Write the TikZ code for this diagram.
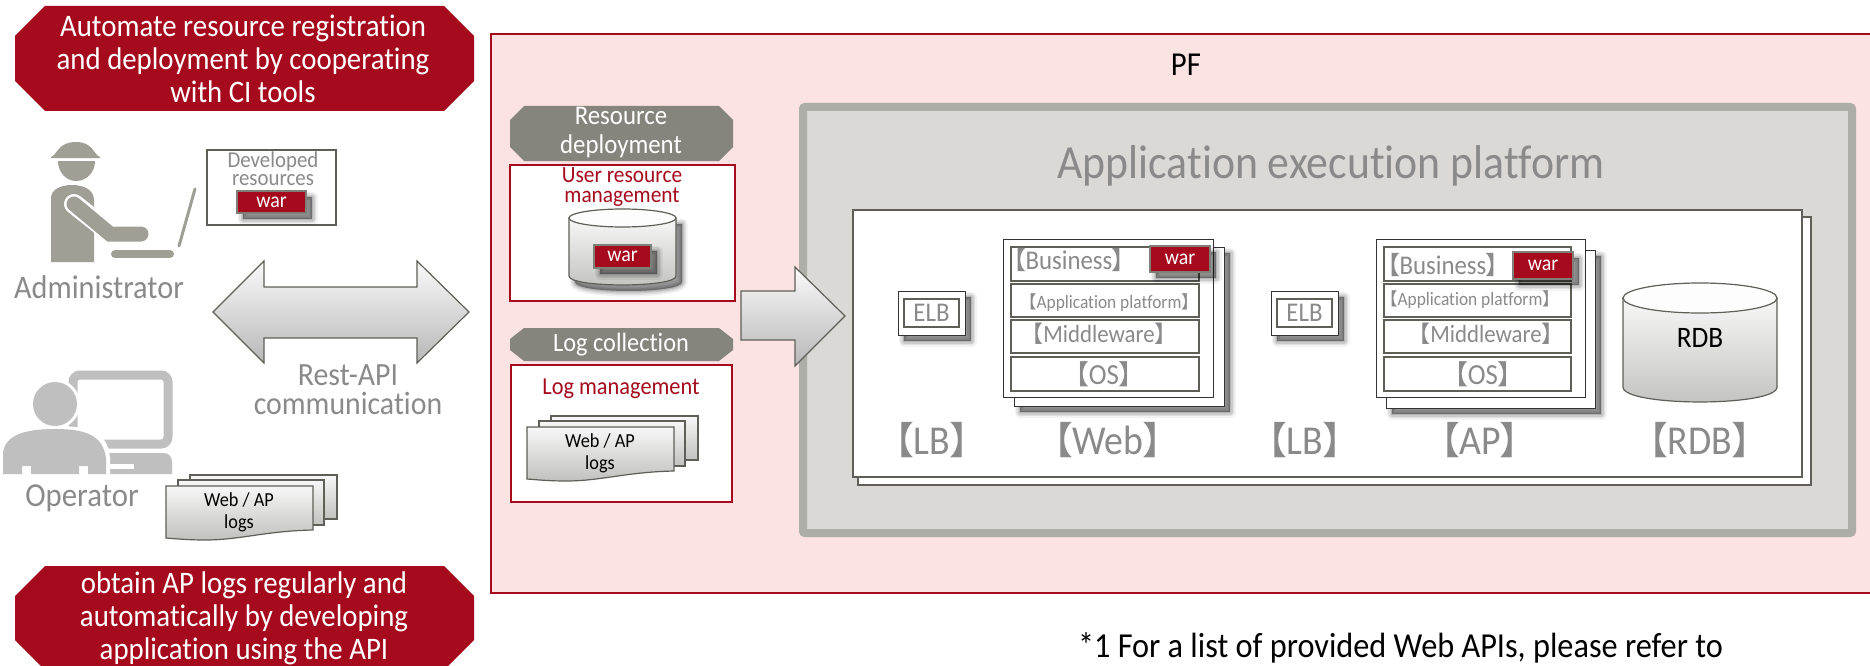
\documentclass[tikz,border=0pt]{standalone}
\usepackage{fontspec}
\setmainfont[FakeStretch=0.92,Scale=1.08,Ligatures=NoCommon]{Carlito}
\newfontfamily\cjk{Noto Sans CJK JP}
\definecolor{fred}{HTML}{A60B1D}
\definecolor{fpink}{HTML}{FBE3E3}
\definecolor{fgrayb}{HTML}{85857D}
\definecolor{fline}{HTML}{5F5F58}
\definecolor{ftext}{HTML}{8A8A8A}
\definecolor{ficon}{HTML}{9F9F96}
\definecolor{fop}{HTML}{BFBFBF}
\definecolor{fplat}{HTML}{DAD9D5}
\definecolor{fplatb}{HTML}{ADAEA7}
\newcommand{\fs}[2]{\fontsize{#1}{#2}\selectfont}
\newcommand{\lk}{\kern-.5em{\cjk 【}\kern-.02em}
\newcommand{\rk}{\kern-.02em{\cjk 】}\kern-.5em}
% rectangle node: name, style, x1, y1, x2, y2, text
\newcommand{\rn}[7]{%
  \pgfmathsetmacro\cxx{(#3+#5)/2}\pgfmathsetmacro\cyy{(#4+#6)/2}%
  \pgfmathsetmacro\ww{#5-#3}\pgfmathsetmacro\hh{#6-#4}%
  \node[#2,minimum width=\ww pt,minimum height=\hh pt,inner sep=0pt,outer sep=0pt] (#1) at (\cxx,\cyy) {#7};}
\tikzset{
  softshadow/.style={
    preaction={draw=black,fill=black,opacity=.05,line width=11pt,line join=round,transform canvas={shift={(6pt,-6pt)}}},
    preaction={draw=black,fill=black,opacity=.07,line width=8pt,line join=round,transform canvas={shift={(6pt,-6pt)}}},
    preaction={draw=black,fill=black,opacity=.09,line width=5pt,line join=round,transform canvas={shift={(6pt,-6pt)}}},
    preaction={draw=black,fill=black,opacity=.11,line width=2.5pt,line join=round,transform canvas={shift={(6pt,-6pt)}}},
    preaction={fill=black,opacity=.14,transform canvas={shift={(6pt,-6pt)}}}},
  txt/.style={align=center,inner sep=0pt,outer sep=0pt},
  bannertxt/.style={txt,text=white,font=\fs{29}{33}},
  redbanner/.style={fill=fred,draw=none},
  graybanner/.style={fill=fgrayb,draw=none},
  warbox/.style={draw=fline!80,fill=fred,line width=1.3pt,text=white,font=\fs{20}{20},softshadow},
  grad/.style={top color=white!97!black,bottom color=fplatb!75!white,draw=fline,line width=1.2pt},
  blockarrow/.style={top color=white!98!black,bottom color=black!28,draw=fline,line width=1.2pt,line join=miter},
  whitebox/.style={fill=white,draw=fline,line width=1.2pt},
  stackfront/.style={fill=white,draw=black!80,line width=1pt},
  rowbox/.style={fill=white,draw=fline,line width=1.4pt},
  redbox/.style={fill=white,draw=fred,line width=2pt},
  graytxt/.style={txt,text=ftext},
  redtxt/.style={txt,text=fred},
  blacktxt/.style={txt,text=black},
}
\newcommand{\docstack}[4]{% dx dy name text
\begin{scope}[shift={(#1,#2)}]
  \path[grad] (190,475) rectangle (337,519);
  \path[grad] (178,480) rectangle (324,525);
  \path[grad] (166,486) -- (313,486) -- (313,530) .. controls (265,531) and (240,540) .. (205,540) .. controls (190,540) and (178,539) .. (166,538) -- cycle;
  \node[blacktxt,font=\fs{18.4}{22}] (#3) at (239,512) {#4};
\end{scope}}
% cylinder: x1 x2 y1 y2 ry style
\newcommand{\cyl}[6]{%
  \pgfmathsetmacro\yt{#3+#5}\pgfmathsetmacro\yb{#4-#5}\pgfmathsetmacro\yc{#4+#5*.33}%
  \pgfmathsetmacro\xm{(#1+#2)/2}\pgfmathsetmacro\rx{(#2-#1)/2}%
  \path[grad,#6] (#1,\yt) -- (#1,\yb) .. controls (#1,\yc) and (#2,\yc) .. (#2,\yb) -- (#2,\yt) -- cycle;
  \path[fill=white!96!fplat,draw=fline,line width=1.2pt] (\xm,\yt) ellipse [x radius=\rx,y radius=#5];}
\begin{document}
\begin{tikzpicture}[x=1pt,y=-1pt]
\useasboundingbox (0,0) rectangle (1870,666);
\clip (0,0) rectangle (1870,666);
\fill[white] (0,0) rectangle (1870,666);

% Left banners
\path[redbanner] (45,6) -- (444,6) -- (474,36) -- (474,81) -- (444,111) -- (45,111) -- (15,81) -- (15,36) -- cycle;
\node[bannertxt] (bannertop) at (243,59) {Automate resource registration\\and deployment by cooperating\\with CI tools};
\path[redbanner] (45,566) -- (444,566) -- (474,596) -- (474,640) -- (444,670) -- (45,670) -- (15,640) -- (15,596) -- cycle;
\node[bannertxt] (bannerbot) at (244,618) {obtain AP logs regularly and\\automatically by developing\\application using the API};

% Administrator icon
\fill[ficon] (51,157) .. controls (58,154) and (58,142) .. (76,142) .. controls (93,142) and (93,154) .. (100,157) -- (100,158) -- (51,158) -- cycle;
\fill[ficon] (58,161) -- (95,161) .. controls (95,172) and (87,181) .. (76,181) .. controls (66,181) and (58,172) .. (58,161) -- cycle;
\fill[ficon] (51,262) -- (51,198) .. controls (51,190) and (60,185) .. (72,185) .. controls (84,185) and (94,190) .. (94,200) -- (94,262) -- cycle;
\draw[white,line width=20pt,line cap=round] (74,204) -- (112,234);
\draw[ficon,line width=15pt,line cap=round] (74,204) -- (110,234) -- (141,234);
\draw[ficon,line width=3pt,line cap=round] (195,189) -- (179,246);
\draw[ficon,line width=8pt,line cap=round] (115,254) -- (170,254);
\node[graytxt,font=\fs{30.5}{31}] (admin) at (99,287) {Administrator};

% Developed resources
\rn{devbox}{whitebox}{207}{150}{336}{225}{}
\node[graytxt,font=\fs{21}{18}] (devtxt) at (273,169) {Developed\\resources};
\rn{war1}{warbox}{237}{191}{306}{213}{war}

% Double arrow
\path[blockarrow] (213,312) -- (264,261) -- (264,287) -- (417,287) -- (417,261) -- (469,312) -- (417,363) -- (417,338) -- (264,338) -- (264,363) -- cycle;
\node[graytxt,font=\fs{30}{29}] (rest) at (348,390) {Rest-API\\communication};

% Operator icon
\draw[fop,line width=9pt,rounded corners=7pt] (73,375) rectangle (168,444);
\fill[fop] (108,453) -- (164,453) .. controls (169,453) and (172,457) .. (172,462) -- (172,474) -- (108,474) -- cycle;
\fill[white] (108,464) rectangle (134,469);
\fill[white] (55,404) circle (25);
\fill[fop] (55,404) circle (22);
\fill[white] (0,474) -- (0,452) .. controls (2,432) and (25,426) .. (55,426) .. controls (90,426) and (108,432) .. (110,458) -- (110,474) -- cycle;
\fill[fop] (3,474) -- (3,453) .. controls (5,435) and (25,429) .. (55,429) .. controls (85,429) and (103,435) .. (106,458) -- (106,474) -- (88,474) -- (88,466) -- (79,466) -- (79,474) -- (31,474) -- (31,466) -- (22,466) -- (22,474) -- cycle;
\node[graytxt,font=\fs{31}{31}] (operator) at (82,498) {Operator};
\docstack{0}{0}{logsA}{Web / AP\\logs}

% PF background
\path[fill=fpink,draw=fred,line width=2pt] (1880,34) -- (491,34) -- (491,593) -- (1880,593);
\node[blacktxt,font=\fs{31}{31}] (pf) at (1186,65) {PF};

% Resource deployment
\path[graybanner] (524,106) -- (719,106) -- (733,120) -- (733,147) -- (719,161) -- (524,161) -- (510,147) -- (510,120) -- cycle;
\node[txt,text=white,font=\fs{25}{29}] (resdep) at (621,133) {Resource\\deployment};
\rn{userbox}{redbox}{510}{165}{735}{301}{}
\node[redtxt,font=\fs{21.5}{20}] (usertxt) at (622,187) {User resource\\management};
\cyl{569}{676}{209}{285}{9}{softshadow}
\rn{war2}{warbox}{594}{245}{651}{268}{war}

% Log collection
\path[graybanner] (524,328) -- (719,328) -- (733,339) -- (733,350) -- (719,361) -- (524,361) -- (510,350) -- (510,339) -- cycle;
\node[txt,text=white,font=\fs{24.5}{29}] (logcol) at (621,345) {Log collection};
\rn{logbox}{redbox}{511}{365}{732}{502}{}
\node[redtxt,font=\fs{22.5}{23}] (logtxt) at (621,389) {Log management};
\docstack{361}{-59}{logsB}{Web / AP\\logs}

% Application execution platform
\path[fill=fplat,draw=fplatb,line width=8pt,rounded corners=2pt] (803,107) rectangle (1852,533);
\node[graytxt,font=\fs{44}{44}] (aep) at (1331,166) {Application execution platform};

% Arrow to platform
\path[blockarrow] (741,291) -- (795,291) -- (795,267) -- (845,316) -- (795,366) -- (795,340) -- (741,340) -- cycle;

% White panel
\rn{panelback}{whitebox}{858}{217}{1811}{485}{}
\rn{panel}{whitebox}{853}{210}{1802}{477}{}

% ELBs
\rn{elbA}{stackfront,softshadow}{898}{291}{965}{335}{}
\rn{elbAi}{rowbox,text=ftext,font=\fs{25}{25}}{904}{299}{959}{327}{ELB}
\rn{elbB}{stackfront,softshadow}{1271}{291}{1338}{335}{}
\rn{elbBi}{rowbox,text=ftext,font=\fs{25}{25}}{1277}{299}{1332}{327}{ELB}

% Web stack
\rn{webback}{stackfront,softshadow}{1014}{247}{1224}{406}{}
\rn{webfront}{stackfront}{1003}{239}{1213}{397}{}
\rn{webr1}{rowbox}{1011}{247}{1199}{281}{}
\rn{webr2}{rowbox}{1011}{284}{1199}{317}{}
\rn{webr3}{rowbox}{1011}{320}{1199}{353}{}
\rn{webr4}{rowbox}{1011}{357}{1199}{391}{}
\node[graytxt,font=\fs{25}{25}] (webbus) at (1069,260) {\lk Business\rk};
\node[graytxt,font=\fs{17.5}{19}] (webapp) at (1109,303) {\lk Application platform\rk};
\node[graytxt,font=\fs{23}{25}] (webmid) at (1099,334) {\lk Middleware\rk};
\node[graytxt,font=\fs{27}{27}] (webos) at (1104,374) {\lk OS\rk};
\rn{war3}{warbox}{1150}{246}{1210}{272}{war}

% AP stack
\rn{apback}{stackfront,softshadow}{1386}{250}{1595}{408}{}
\rn{apfront}{stackfront}{1376}{239}{1585}{397}{}
\rn{apr1}{rowbox}{1384}{247}{1571}{281}{}
\rn{apr2}{rowbox}{1384}{284}{1571}{317}{}
\rn{apr3}{rowbox}{1384}{320}{1571}{353}{}
\rn{apr4}{rowbox}{1384}{357}{1571}{391}{}
\node[graytxt,font=\fs{25}{25}] (apbus) at (1443,265) {\lk Business\rk};
\node[graytxt,font=\fs{17.5}{19}] (apapp) at (1470,300) {\lk Application platform\rk};
\node[graytxt,font=\fs{23}{25}] (apmid) at (1486,334) {\lk Middleware\rk};
\node[graytxt,font=\fs{27}{27}] (apos) at (1483,374) {\lk OS\rk};
\rn{war4}{warbox}{1513}{252}{1573}{279}{war}

% RDB
\cyl{1623}{1777}{283}{402}{15}{}
\node[blacktxt,font=\fs{27.5}{27}] (rdb) at (1700,338) {RDB};

% Tier labels
\node[graytxt,font=\fs{38}{38}] (lbA) at (932,440) {\lk LB\rk};
\node[graytxt,font=\fs{38}{38}] (web) at (1108,440) {\lk Web\rk};
\node[graytxt,font=\fs{38}{38}] (lbB) at (1305,440) {\lk LB\rk};
\node[graytxt,font=\fs{38}{38}] (ap) at (1480,440) {\lk AP\rk};
\node[graytxt,font=\fs{38}{38}] (rdbl) at (1700,440) {\lk RDB\rk};

% Footnote
\node[blacktxt,font=\fs{32.5}{31},anchor=west] (foot) at (1078,648) {*1 For a list of provided Web APIs, please refer to};
\end{tikzpicture}
\end{document}
